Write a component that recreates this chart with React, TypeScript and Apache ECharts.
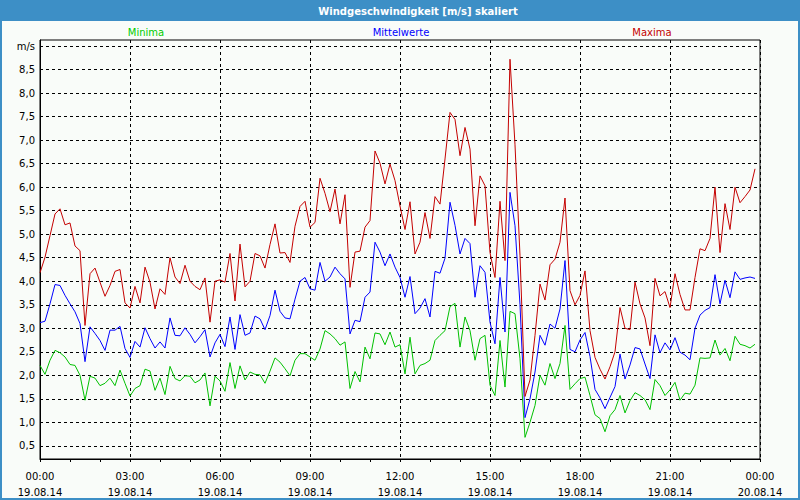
import React, { useEffect, useRef } from "react";
import * as echarts from "echarts";

// 10-minute steps starting 19.08.14 00:00
const maxima = [
  4.18, 4.51, 4.97, 5.43, 5.54, 5.2, 5.24, 4.75, 4.65, 3.06, 4.16, 4.28, 3.98, 3.68, 3.91, 4.21, 4.25, 3.54, 3.43, 3.89,
  3.54, 4.3, 3.98, 3.41, 3.84, 3.72, 4.5, 4.09, 3.95, 4.34, 4.0, 3.89, 3.82, 4.07, 3.13, 4.0, 4.03, 3.98, 4.59, 3.58,
  4.79, 3.88, 4.0, 4.59, 4.54, 4.28, 4.78, 5.22, 4.6, 4.61, 4.4, 5.17, 5.59, 5.7, 5.15, 5.25, 6.19, 5.87, 5.48, 5.96,
  5.22, 5.84, 3.87, 4.62, 4.64, 5.15, 5.29, 6.77, 6.51, 6.07, 6.49, 6.14, 5.6, 5.1, 5.69, 4.58, 4.83, 5.46, 4.91, 5.8,
  5.64, 6.6, 7.59, 7.44, 6.67, 7.27, 6.81, 5.18, 6.24, 6.03, 4.61, 4.08, 5.7, 4.44, 8.72, 6.9, 4.54, 1.55, 1.9, 2.85,
  3.94, 3.6, 4.35, 4.47, 4.83, 5.77, 3.8, 3.5, 3.7, 4.22, 2.95, 2.38, 2.13, 1.92, 2.18, 2.5, 3.44, 3.0, 2.97, 3.98,
  3.52, 3.22, 2.63, 4.06, 3.69, 3.78, 3.44, 4.16, 3.72, 3.39, 3.39, 4.08, 4.69, 4.65, 4.91, 6.0, 4.61, 5.65, 5.1, 6.0,
  5.67, 5.8, 5.94, 6.39,
];

const mittelwerte = [
  3.12, 3.15, 3.52, 3.93, 3.91, 3.7, 3.52, 3.35, 3.1, 2.29, 3.03, 2.89, 2.74, 2.53, 2.96, 2.96, 3.04, 2.57, 2.38, 2.72,
  2.6, 3.01, 2.78, 2.58, 2.71, 2.58, 3.22, 2.85, 2.84, 3.01, 2.87, 2.69, 2.82, 2.97, 2.39, 2.69, 2.87, 2.61, 3.24, 2.55,
  3.29, 2.85, 2.9, 3.26, 3.2, 2.97, 3.27, 3.81, 3.36, 3.22, 3.2, 3.62, 4.0, 4.08, 3.84, 3.81, 4.4, 4.0, 4.09, 4.3,
  4.16, 4.05, 2.88, 3.17, 3.14, 3.66, 3.77, 4.83, 4.62, 4.33, 4.58, 4.3, 4.08, 3.66, 4.1, 3.31, 3.43, 3.63, 3.24, 4.21,
  4.17, 4.49, 5.68, 5.19, 4.58, 4.91, 4.8, 3.66, 4.33, 4.19, 3.13, 2.67, 4.08, 2.92, 5.89, 5.18, 3.5, 1.1, 1.5, 2.07,
  2.85, 2.64, 3.09, 3.0, 3.41, 4.44, 2.55, 2.5, 2.75, 2.91, 2.4, 1.7, 1.52, 1.29, 1.53, 1.76, 2.45, 1.92, 2.22, 2.59,
  2.56, 2.24, 1.93, 2.86, 2.48, 2.69, 2.54, 2.8, 2.49, 2.43, 2.33, 3.0, 3.28, 3.38, 3.44, 4.14, 3.52, 4.02, 3.65, 4.2,
  4.04, 4.07, 4.09, 4.06,
];

const minima = [
  2.21, 2.02, 2.32, 2.53, 2.48, 2.39, 2.23, 2.21, 2.0, 1.47, 1.98, 1.94, 1.78, 1.83, 1.94, 1.78, 2.11, 1.83, 1.56, 1.72,
  1.78, 2.13, 2.09, 1.68, 1.94, 1.59, 2.19, 1.93, 1.88, 1.99, 1.98, 1.84, 1.9, 2.05, 1.35, 1.98, 1.88, 1.66, 2.27, 1.72,
  2.2, 1.9, 2.07, 2.02, 2.01, 1.83, 2.09, 2.37, 2.28, 2.14, 1.99, 2.32, 2.46, 2.46, 2.39, 2.32, 2.56, 2.95, 2.88, 2.78,
  2.64, 2.71, 1.72, 2.08, 1.86, 2.6, 2.35, 2.9, 2.88, 2.65, 2.92, 2.6, 2.65, 2.03, 2.81, 2.03, 2.21, 2.25, 2.32, 2.74,
  2.85, 2.95, 3.46, 3.53, 2.6, 3.24, 2.95, 2.32, 2.78, 2.85, 1.79, 1.57, 2.74, 1.75, 3.36, 3.31, 2.35, 0.68, 1.0, 1.36,
  2.0, 1.79, 2.25, 1.93, 2.25, 3.06, 1.7, 1.82, 1.93, 1.96, 1.57, 1.16, 1.08, 0.8, 1.14, 1.27, 1.57, 1.2, 1.46, 1.63,
  1.57, 1.48, 1.27, 1.91, 1.78, 1.57, 1.69, 1.85, 1.47, 1.62, 1.6, 1.79, 2.37, 2.36, 2.37, 2.75, 2.43, 2.57, 2.31, 2.83,
  2.66, 2.63, 2.58, 2.66,
];

const timeLabels = ["00:00", "03:00", "06:00", "09:00", "12:00", "15:00", "18:00", "21:00", "00:00"];
const dateLabels = ["19.08.14", "19.08.14", "19.08.14", "19.08.14", "19.08.14", "19.08.14", "19.08.14", "19.08.14", "20.08.14"];
const yTicks = [0.5, 1, 1.5, 2, 2.5, 3, 3.5, 4, 4.5, 5, 5.5, 6, 6.5, 7, 7.5, 8, 8.5, 9];
const seriesNames = ["Minima", "Mittelwerte", "Maxima"];

const STEP_MIN = 10;
const FONT = "DejaVu Sans";

export default function App() {
  const ref = useRef<HTMLDivElement>(null);

  useEffect(() => {
    if (!ref.current) return;
    const chart = echarts.init(ref.current, undefined, { renderer: "svg" });
    const toPairs = (arr: number[]) => arr.map((v, i) => [i * STEP_MIN, v]);
    const colors = { min: "#00C000", mid: "#0000FF", max: "#C40000" };

    chart.setOption({
      animation: false,
      backgroundColor: "transparent",
      graphic: [
        { type: "text", x: 418, y: 11, style: { text: "Windgeschwindigkeit [m/s] skaliert", fill: "#FFFFFF", font: `bold 10px '${FONT}'`, textAlign: "center", textVerticalAlign: "middle" } },
        { type: "text", x: 146, y: 32, style: { text: seriesNames[0], fill: "#00CC00", font: `10px '${FONT}'`, textAlign: "center", textVerticalAlign: "middle" } },
        { type: "text", x: 401, y: 32, style: { text: seriesNames[1], fill: "#0000FF", font: `10px '${FONT}'`, textAlign: "center", textVerticalAlign: "middle" } },
        { type: "text", x: 652, y: 32, style: { text: seriesNames[2], fill: "#C40000", font: `10px '${FONT}'`, textAlign: "center", textVerticalAlign: "middle" } },
      ],
      grid: {
        left: 40,
        right: 40,
        top: 40,
        bottom: 40,
        show: true,
        borderColor: "#000",
        borderWidth: 1,
        backgroundColor: "transparent",
      },
      xAxis: {
        type: "value",
        min: 0,
        max: 1440,
        interval: 180,
        axisLine: { show: true, lineStyle: { color: "#000", width: 1 } },
        axisTick: { show: true, length: 3, lineStyle: { color: "#000" } },
        minorTick: { show: true, splitNumber: 3, length: 3, lineStyle: { color: "#000" } },
        splitLine: { show: true, lineStyle: { color: "#000", type: [3, 3], width: 1 } },
        axisLabel: {
          color: "#000",
          fontFamily: FONT,
          fontSize: 10,
          margin: 9,
          lineHeight: 16,
          formatter: (v: number) => {
            const idx = Math.round(v / 180);
            return `${timeLabels[idx]}\n${dateLabels[idx]}`;
          },
        },
      },
      yAxis: {
        type: "value",
        min: 0.22,
        max: 9.13,
        axisLine: { show: true, lineStyle: { color: "#000", width: 1 } },
        axisTick: { show: false, customValues: yTicks },
        splitLine: { show: true, lineStyle: { color: "#000", type: [3, 3], width: 1 } },
        axisLabel: {
          customValues: yTicks,
          color: "#000",
          fontFamily: FONT,
          fontSize: 10,
          margin: 5,
          formatter: (v: number) => (Math.abs(v - 9) < 1e-6 ? "m/s" : v.toFixed(1).replace(".", ",")),
        },
      },
      series: [
        {
          name: seriesNames[0],
          type: "line",
          data: toPairs(minima),
          showSymbol: false,
          symbol: "none",
          lineStyle: { color: colors.min, width: 1 },
          itemStyle: { color: colors.min },
        },
        {
          name: seriesNames[1],
          type: "line",
          data: toPairs(mittelwerte),
          showSymbol: false,
          symbol: "none",
          lineStyle: { color: colors.mid, width: 1 },
          itemStyle: { color: colors.mid },
        },
        {
          name: seriesNames[2],
          type: "line",
          data: toPairs(maxima),
          showSymbol: false,
          symbol: "none",
          lineStyle: { color: colors.max, width: 1 },
          itemStyle: { color: colors.max },
        },
      ],
    });
    return () => chart.dispose();
  }, []);

  return (
    <div style={{ position: "fixed", left: 0, top: 0, width: 800, height: 500, background: "#3D8FC6" }}>
      <div style={{ position: "absolute", left: 2, top: 21, right: 2, bottom: 2, background: "#F9FCF9" }} />
      <div ref={ref} style={{ position: "absolute", left: 0, top: 0, width: 800, height: 500 }} />
    </div>
  );
}
